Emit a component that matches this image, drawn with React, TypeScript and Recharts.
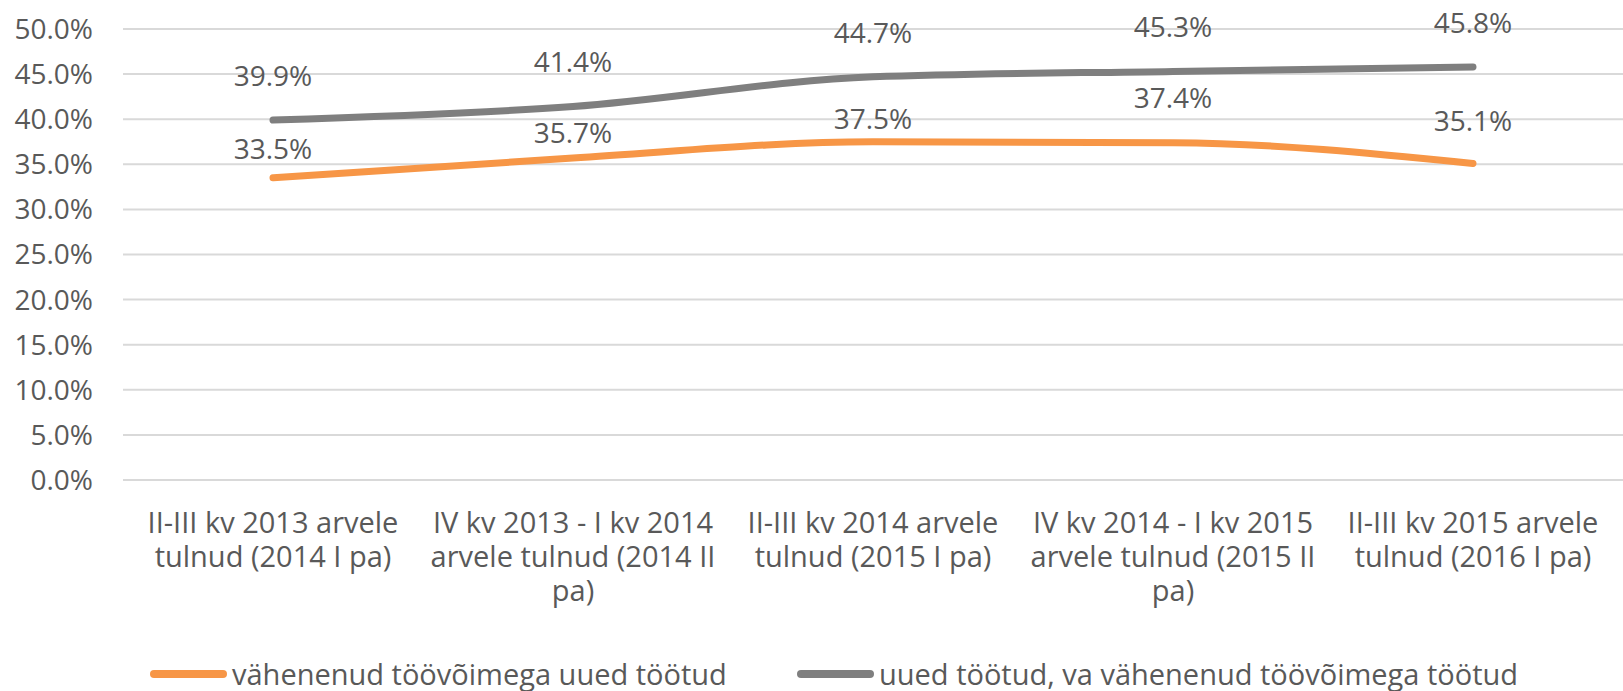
import { LineChart, Line, XAxis, YAxis, CartesianGrid, Legend, LabelList } from 'recharts';

const categories = [
  'II-III kv 2013 arvele tulnud (2014 I pa)',
  'IV kv 2013 - I kv 2014 arvele tulnud (2014 II pa)',
  'II-III kv 2014 arvele tulnud (2015 I pa)',
  'IV kv 2014 - I kv 2015 arvele tulnud (2015 II pa)',
  'II-III kv 2015 arvele tulnud (2016 I pa)',
];
const reducedCapacity = [33.5, 35.7, 37.5, 37.4, 35.1];
const otherUnemployed = [39.9, 41.4, 44.7, 45.3, 45.8];
const yTicks = [0, 5, 10, 15, 20, 25, 30, 35, 40, 45, 50];

const seriesNames = {
  reduced: 'vähenenud töövõimega uued töötud',
  other: 'uued töötud, va vähenenud töövõimega töötud',
};

const data = categories.map((c, i) => ({
  category: c,
  reduced: reducedCapacity[i],
  other: otherUnemployed[i],
}));

const FONT = '"Open Sans", sans-serif';
const TEXT = '#595959';
const ORANGE = '#F79646';
const GRAY = '#7F7F7F';
const CAT_SIZE = 29;

// labels were nudged by hand in the original, so lift varies per point
const orangeLift = [29, 25, 23, 44, 42];
const grayLift = [44, 44, 44, 44, 44];

const fmt = (v: number) => `${v.toFixed(1)}%`;

let ctx: CanvasRenderingContext2D | null = null;
const measure = (s: string) => {
  if (!ctx) {
    ctx = document.createElement('canvas').getContext('2d');
    if (ctx) ctx.font = `${CAT_SIZE}px ${FONT}`;
  }
  return ctx ? ctx.measureText(s).width : s.length * 14;
};

// greedy word wrap, like the category labels in the original
const wrap = (s: string, max: number) => {
  const lines: string[] = [];
  let cur = '';
  s.split(' ').forEach((w) => {
    const next = cur ? `${cur} ${w}` : w;
    if (cur && measure(next) > max) {
      lines.push(cur);
      cur = w;
    } else cur = next;
  });
  if (cur) lines.push(cur);
  return lines;
};

const makeLabel = (lifts: number[]) => (props: any) => {
  const { x, y, value, index } = props;
  return (
    <text x={x} y={y - lifts[index]} dy="0.35em" textAnchor="middle" fill={TEXT}
      style={{ fontFamily: FONT, fontSize: 28 }}>
      {fmt(value)}
    </text>
  );
};

const CategoryTick = (props: any) => {
  const { x, y, payload } = props;
  const lines = wrap(String(payload.value), 305);
  return (
    <g>
      {lines.map((l, i) => (
        <text key={i} x={x} y={y + 53 + i * 34} textAnchor="middle" fill={TEXT}
          style={{ fontFamily: FONT, fontSize: CAT_SIZE }}>
          {l}
        </text>
      ))}
    </g>
  );
};

const LegendBox = () => (
  <div style={{ position: 'relative', width: 1623, height: 34, fontFamily: FONT, fontSize: CAT_SIZE, color: TEXT }}>
    {[
      { left: 150, color: ORANGE, name: seriesNames.reduced },
      { left: 797, color: GRAY, name: seriesNames.other },
    ].map((it) => (
      <div key={it.name} style={{ position: 'absolute', left: it.left, top: 0, height: 34, display: 'flex', alignItems: 'center', whiteSpace: 'nowrap' }}>
        <div style={{ width: 77, height: 8, borderRadius: 4, background: it.color, marginRight: 5 }} />
        <span style={{ lineHeight: '34px' }}>{it.name}</span>
      </div>
    ))}
  </div>
);

export default function App() {
  return (
    <div style={{ position: 'absolute', left: 0, top: 0, background: '#fff' }}>
      <LineChart width={1623} height={691} data={data} margin={{ top: 29, right: 0, left: 0, bottom: 0 }}>
        <CartesianGrid vertical={false} stroke="#D9D9D9" strokeWidth={2} />
        <XAxis
          dataKey="category"
          axisLine={false}
          tickLine={false}
          tickSize={0}
          tickMargin={0}
          height={177}
          interval={0}
          padding={{ left: 150, right: 150 }}
          tick={<CategoryTick />}
        />
        <YAxis
          domain={[0, 50]}
          ticks={yTicks}
          axisLine={false}
          tickLine={false}
          tickSize={0}
          tickMargin={30}
          width={123}
          tickFormatter={fmt}
          tick={{ fill: TEXT, fontSize: 28, fontFamily: FONT }}
        />
        <Legend verticalAlign="bottom" content={<LegendBox />} wrapperStyle={{ left: 0, bottom: 0, width: 1623, height: 34 }} />
        <Line
          type="monotone"
          dataKey="reduced"
          name={seriesNames.reduced}
          stroke={ORANGE}
          strokeWidth={7}
          strokeLinecap="round"
          dot={false}
          activeDot={false}
          isAnimationActive={false}
        >
          <LabelList dataKey="reduced" content={makeLabel(orangeLift)} />
        </Line>
        <Line
          type="monotone"
          dataKey="other"
          name={seriesNames.other}
          stroke={GRAY}
          strokeWidth={7}
          strokeLinecap="round"
          dot={false}
          activeDot={false}
          isAnimationActive={false}
        >
          <LabelList dataKey="other" content={makeLabel(grayLift)} />
        </Line>
      </LineChart>
    </div>
  );
}
